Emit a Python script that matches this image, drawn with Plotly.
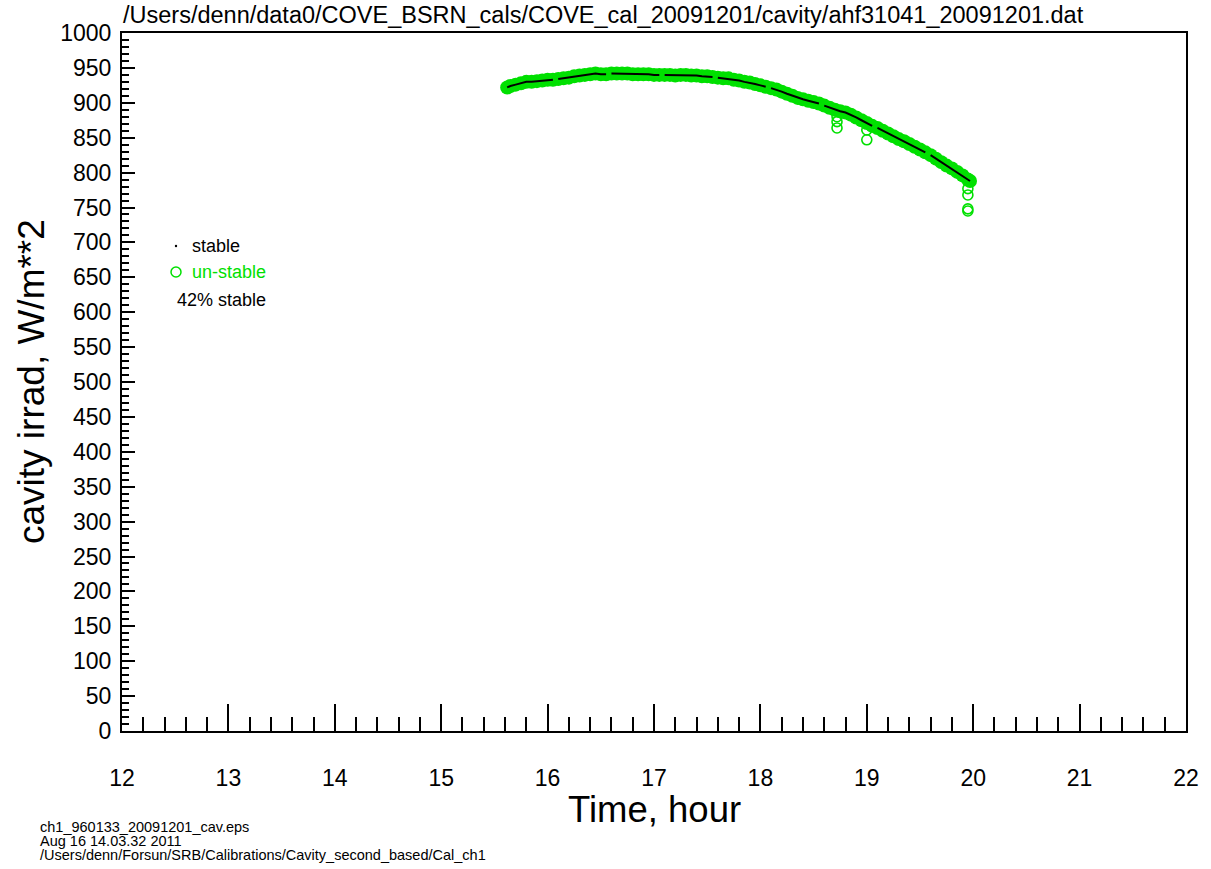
import plotly.graph_objects as go

# ---- data ----
hours = [15.62, 15.65, 15.70, 15.75, 15.80, 15.85, 15.90, 15.95, 16.00, 16.05,
         16.10, 16.15, 16.20, 16.25, 16.30, 16.35, 16.40, 16.45, 16.50, 16.55,
         16.60, 16.65, 16.70, 16.75, 16.80, 16.85, 16.90, 16.95, 17.00, 17.05,
         17.10, 17.15, 17.20, 17.25, 17.30, 17.35, 17.40, 17.45, 17.50, 17.55,
         17.60, 17.65, 17.70, 17.75, 17.80, 17.85, 17.90, 17.95, 18.00, 18.05,
         18.10, 18.15, 18.20, 18.25, 18.30, 18.35, 18.40, 18.45, 18.50, 18.55,
         18.60, 18.65, 18.70, 18.75, 18.80, 18.85, 18.90, 18.95, 19.00, 19.05,
         19.10, 19.15, 19.20, 19.25, 19.30, 19.35, 19.40, 19.45, 19.50, 19.55,
         19.60, 19.65, 19.70, 19.75, 19.80, 19.85, 19.90, 19.95, 19.97]
irrad = [922, 924, 926, 928, 930, 930, 931, 932, 933, 933,
         934, 935, 936, 938, 939, 940, 941, 942, 941, 941,
         942, 942, 942, 942, 941, 941, 941, 941, 940, 940,
         940, 940, 939, 940, 940, 939, 939, 938, 938, 937,
         936, 935, 935, 933, 932, 930, 929, 927, 925, 923,
         921, 919, 916, 913, 910, 907, 905, 903, 901, 899,
         896, 893, 890, 888, 886, 883, 879, 875, 871, 867,
         864, 860, 856, 852, 848, 845, 841, 837, 833, 829,
         825, 820, 815, 810, 806, 801, 796, 790, 788]
# times after which the stable record breaks
stable_breaks = [16.05, 16.55, 17.05, 17.55, 18.05, 18.55, 19.05, 19.55]
outlier_hours = [18.72, 18.72, 18.72, 19.00, 19.00, 19.95, 19.95, 19.95, 19.95]
outlier_irrad = [880, 873, 864, 861, 847, 777, 768, 748, 745]

title_text = "/Users/denn/data0/COVE_BSRN_cals/COVE_cal_20091201/cavity/ahf31041_20091201.dat"
footer_lines = ["ch1_960133_20091201_cav.eps",
                "Aug 16 14.03.32 2011",
                "/Users/denn/Forsun/SRB/Calibrations/Cavity_second_based/Cal_ch1"]
pct_stable = "42% stable"

FONT = "Liberation Sans, Arial, Helvetica, sans-serif"
GREEN = "#00e000"

# build stable line with breaks
sx, sy = [], []
for h, v in zip(hours, irrad):
    sx.append(h)
    sy.append(v)
    if h in stable_breaks:
        sx.append(None)
        sy.append(None)

fig = go.Figure()
# dense unstable record (forms a solid band)
fig.add_trace(go.Scatter(
    x=hours, y=irrad, mode="markers",
    marker=dict(symbol="circle", size=14, color=GREEN, line=dict(width=0)),
    name="un-stable", showlegend=False, hoverinfo="skip"))
# isolated unstable points
fig.add_trace(go.Scatter(
    x=outlier_hours, y=outlier_irrad, mode="markers",
    marker=dict(symbol="circle-open", size=10, color=GREEN, line=dict(width=1.6, color=GREEN)),
    name="un-stable", showlegend=False, hoverinfo="skip"))
fig.add_trace(go.Scatter(
    x=sx, y=sy, mode="lines", line=dict(color="black", width=2),
    name="stable", showlegend=False, connectgaps=False))

W, H = 1211, 869
L, R, T, B = 122, 25, 33, 138
pw, ph = W - L - R, H - T - B

def px(x):
    # page pixel x -> paper
    return (x - L) / pw

def py(y):
    # page pixel y -> paper
    return (H - B - y) / ph

ann = []
ann.append(dict(text=title_text, x=px(121), y=py(15), xref="paper", yref="paper",
                xanchor="left", yanchor="middle", showarrow=False,
                font=dict(family=FONT, size=23.5, color="black")))
ann.append(dict(text="Time, hour", x=0.5, y=py(809), xref="paper", yref="paper",
                xanchor="center", yanchor="middle", showarrow=False,
                font=dict(family=FONT, size=36.5, color="black")))
ann.append(dict(text="cavity irrad, W/m**2", x=px(31), y=py(382), xref="paper", yref="paper",
                xanchor="center", yanchor="middle", showarrow=False, textangle=-90,
                font=dict(family=FONT, size=37, color="black")))
# legend
ann.append(dict(text="stable", x=px(190), y=py(246), xref="paper", yref="paper",
                xanchor="left", yanchor="middle", showarrow=False,
                font=dict(family=FONT, size=18, color="black")))
ann.append(dict(text="un-stable", x=px(190), y=py(272), xref="paper", yref="paper",
                xanchor="left", yanchor="middle", showarrow=False,
                font=dict(family=FONT, size=18, color=GREEN)))
ann.append(dict(text=pct_stable, x=px(175), y=py(300), xref="paper", yref="paper",
                xanchor="left", yanchor="middle", showarrow=False,
                font=dict(family=FONT, size=18, color="black")))
for line, yy in zip(footer_lines, [827, 841, 855]):
    ann.append(dict(text=line, x=px(39), y=py(yy), xref="paper", yref="paper",
                    xanchor="left", yanchor="middle", showarrow=False, borderpad=0,
                    font=dict(family=FONT, size=14.5, color="black")))

shapes = [
    dict(type="circle", xref="paper", yref="paper", xsizemode="pixel", ysizemode="pixel",
         xanchor=px(176), yanchor=py(246), x0=-1.2, x1=1.2, y0=-1.2, y1=1.2,
         fillcolor="black", line=dict(color="black", width=0)),
    dict(type="circle", xref="paper", yref="paper", xsizemode="pixel", ysizemode="pixel",
         xanchor=px(176), yanchor=py(272), x0=-5, x1=5, y0=-5, y1=5,
         line=dict(color=GREEN, width=1.5)),
]

fig.update_layout(
    width=W, height=H,
    margin=dict(l=L, r=R, t=T, b=B, pad=0),
    paper_bgcolor="white", plot_bgcolor="white",
    font=dict(family=FONT, color="black"),
    showlegend=False,
    annotations=ann, shapes=shapes,
    xaxis=dict(range=[12, 22], dtick=1, tick0=12, ticks="inside", ticklen=27, tickwidth=1.5,
               tickcolor="black", showline=True, linecolor="black", linewidth=2, mirror=True,
               showgrid=False, zeroline=False, ticklabelstandoff=25,
               tickfont=dict(family=FONT, size=23, color="black"),
               minor=dict(dtick=0.2, tick0=12, ticks="inside", ticklen=14, tickwidth=1.5,
                          tickcolor="black", showgrid=False)),
    yaxis=dict(range=[0, 1000], dtick=50, tick0=0, ticks="inside", ticklen=13, tickwidth=1.5,
               tickcolor="black", showline=True, linecolor="black", linewidth=2, mirror=True,
               showgrid=False, zeroline=False, ticklabelstandoff=4,
               tickfont=dict(family=FONT, size=23, color="black"),
               minor=dict(dtick=10, tick0=0, ticks="inside", ticklen=7, tickwidth=1.5,
                          tickcolor="black", showgrid=False)),
)

fig.write_html(
    "out.html",
    config={"displayModeBar": False},
    post_script="document.body.style.margin='0';document.body.style.overflow='hidden';",
)
